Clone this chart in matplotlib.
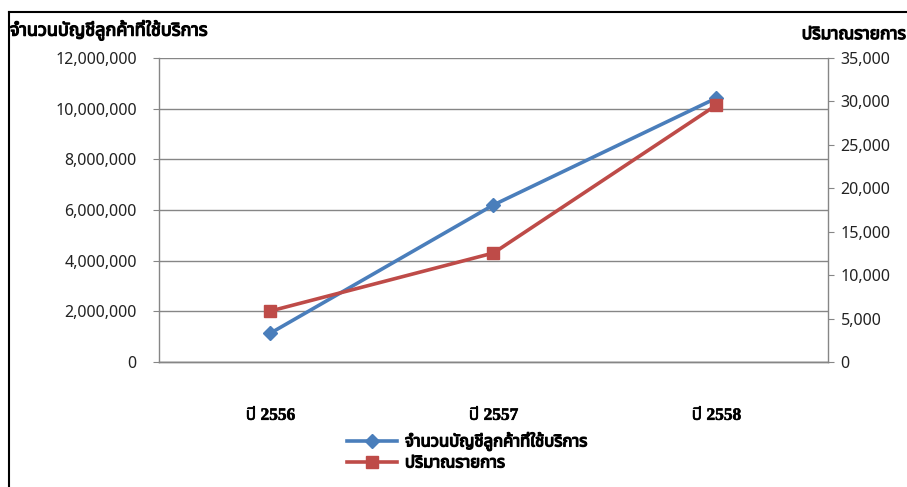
import matplotlib
matplotlib.use("Agg")
from matplotlib import pyplot as plt
from matplotlib import font_manager
from matplotlib import patheffects
from matplotlib.ft2font import FT2Font
from matplotlib.ticker import FuncFormatter, MultipleLocator
from matplotlib.lines import Line2D

years = ["ปี 2556", "ปี 2557", "ปี 2558"]
accounts = [1140000, 6200000, 10420000]
transactions = [5870, 12550, 29590]

accounts_label = "จำนวนบัญชีลูกค้าที่ใช้บริการ"
transactions_label = "ปริมาณรายการ"


def find_thai_font():
    """Pick an installed font family that has Thai glyphs"""
    names = []
    for entry in font_manager.fontManager.ttflist:
        try:
            cmap = FT2Font(entry.fname).get_charmap()
        except Exception:
            continue
        if 0x0E08 in cmap and 0x0E35 in cmap:
            names.append(entry.name)
    for pref in ["Tahoma", "Noto Sans Thai", "Noto Sans Thai UI", "Loma",
                 "Garuda", "Norasi", "Noto Serif Thai"]:
        if pref in names:
            return pref
    return names[0] if names else "DejaVu Sans"


thai = find_thai_font()
plt.rcParams['font.family'] = [thai, 'DejaVu Sans']

# fake bold, the Thai family may only ship a regular weight
heavy = [patheffects.withStroke(linewidth=0.9, foreground="black")]

blue = "#4a7ebb"
red = "#be4b48"
grid = "#868686"

fig = plt.figure(figsize=(9.07, 4.87), dpi=100)
ax = fig.add_axes([0.1753, 0.2567, 0.7376, 0.6242])
ax2 = ax.twinx()

x = range(len(years))

ax.plot(x, accounts, color=blue, lw=2.6, marker="D", ms=7, zorder=3)
ax2.plot(x, transactions, color=red, lw=2.6, marker="s", ms=9, zorder=3)

ax.set_xlim(-0.5, 2.5)
ax.set_ylim(0, 12000000)
ax2.set_ylim(0, 35000)
ax.yaxis.set_major_locator(MultipleLocator(2000000))
ax2.yaxis.set_major_locator(MultipleLocator(5000))
ax.yaxis.set_major_formatter(FuncFormatter(lambda v, p: f"{v:,.0f}"))
ax2.yaxis.set_major_formatter(FuncFormatter(lambda v, p: f"{v:,.0f}"))

ax.grid(axis="y", color=grid, lw=1)
ax.set_axisbelow(True)

for a in (ax, ax2):
    a.spines["top"].set_visible(False)
    for side in ("left", "right", "bottom"):
        a.spines[side].set_color(grid)
        a.spines[side].set_linewidth(1)
ax2.spines["left"].set_visible(False)
ax.spines["right"].set_visible(False)

ax.set_xticks(list(x))
ax.set_xticklabels(years)
for lbl in ax.get_xticklabels():
    lbl.set_fontfamily(["Liberation Serif", "DejaVu Serif", thai])
    lbl.set_fontsize(12.5)
    lbl.set_fontweight("bold")
    lbl.set_path_effects([patheffects.withStroke(linewidth=0.4, foreground="black")])
ax.tick_params(axis="x", length=0, pad=33)
ax.tick_params(axis="y", labelsize=11.5, colors="#222222", length=4, pad=12)
ax2.tick_params(axis="y", labelsize=11.5, colors="#222222", length=4, pad=5)
ax.tick_params(axis="y", color=grid)
ax2.tick_params(axis="y", color=grid)

fig.text(0.011, 0.937, accounts_label, fontsize=13, ha="left", va="center",
         path_effects=heavy)
fig.text(0.999, 0.93, transactions_label, fontsize=12.5, ha="right", va="center",
         path_effects=heavy)

handles = [
    Line2D([], [], color=blue, lw=2.6, marker="D", ms=7),
    Line2D([], [], color=red, lw=2.6, marker="s", ms=9),
]
leg = fig.legend(handles, [accounts_label, transactions_label], loc="center",
                 bbox_to_anchor=(0.515, 0.071), frameon=False, handlelength=3.0,
                 handletextpad=0.5, labelspacing=0.3, prop={"size": 12})
for t in leg.get_texts():
    t.set_path_effects(heavy)

# frame around the chart
fig.add_artist(Line2D([0.0099, 0.0099], [0.0, 0.975], color="black", lw=1.5,
                      transform=fig.transFigure))
fig.add_artist(Line2D([0.0099, 1.0], [0.975, 0.975], color="black", lw=1.5,
                      transform=fig.transFigure))

fig.savefig("out.png", dpi=100)
